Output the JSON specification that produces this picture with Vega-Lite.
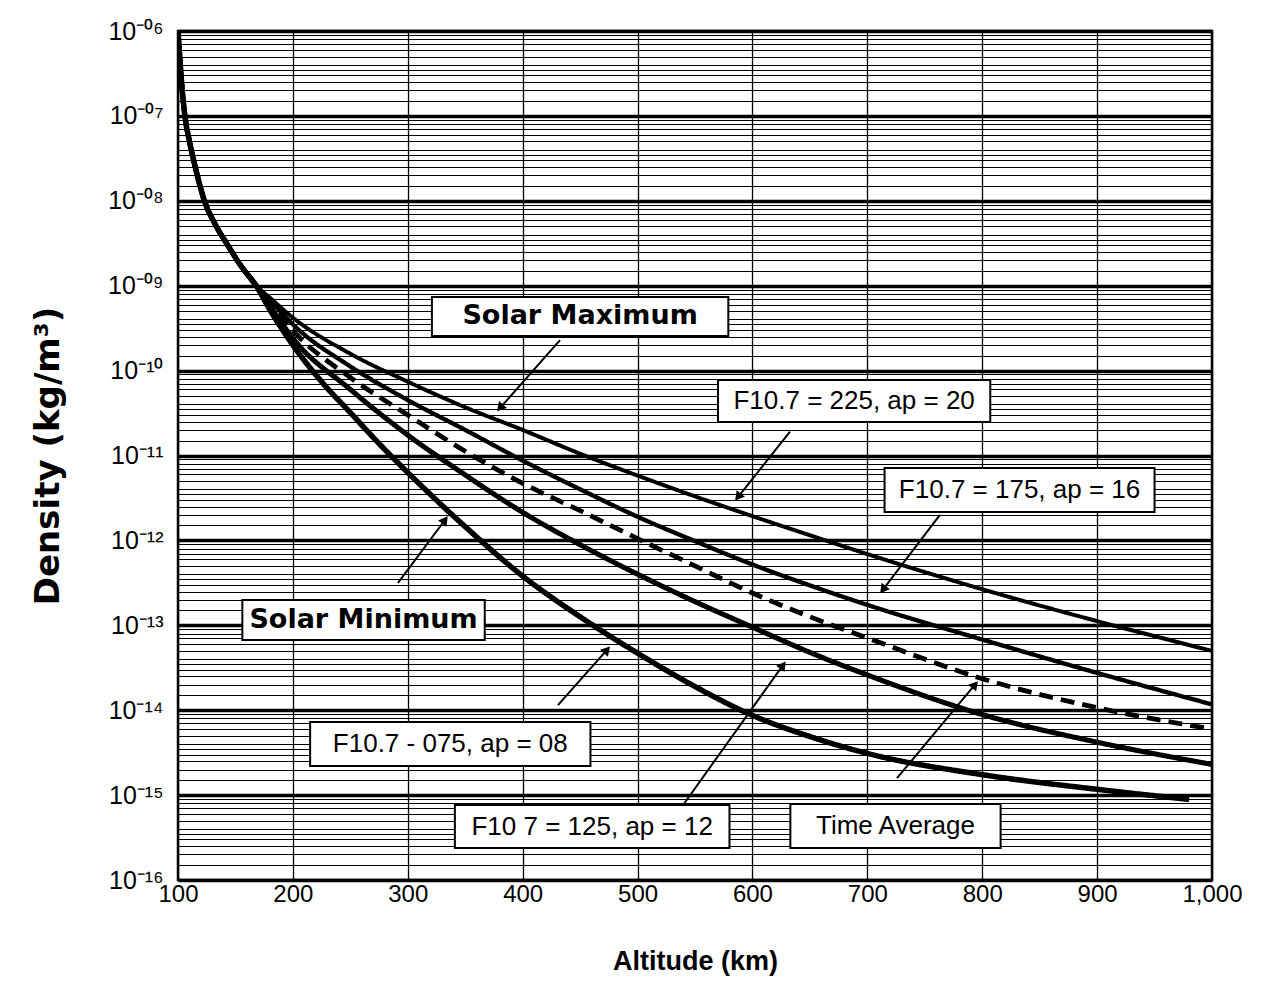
{
  "$schema": "https://vega.github.io/schema/vega-lite/v6.json",
  "width": 1034,
  "height": 849,
  "autosize": {"type": "none"},
  "padding": {"left": 178, "top": 31, "right": 49, "bottom": 120},
  "background": "white",
  "config": {"view": {"stroke": "black", "strokeWidth": 2.5}, "font": "Liberation Sans"},
  "datasets": {
    "curves": [
      {"series": "F10.7=225, ap=20", "alt": 100, "density": 1.0e-6},
      {"series": "F10.7=225, ap=20", "alt": 102, "density": 4.0e-7},
      {"series": "F10.7=225, ap=20", "alt": 104, "density": 1.8e-7},
      {"series": "F10.7=225, ap=20", "alt": 106, "density": 1.0e-7},
      {"series": "F10.7=225, ap=20", "alt": 110, "density": 5.0e-8},
      {"series": "F10.7=225, ap=20", "alt": 115, "density": 2.5e-8},
      {"series": "F10.7=225, ap=20", "alt": 123, "density": 1.0e-8},
      {"series": "F10.7=225, ap=20", "alt": 132, "density": 5.4e-9},
      {"series": "F10.7=225, ap=20", "alt": 142, "density": 3.2e-9},
      {"series": "F10.7=225, ap=20", "alt": 155, "density": 1.7e-9},
      {"series": "F10.7=225, ap=20", "alt": 168, "density": 1.0e-9},
      {"series": "F10.7=225, ap=20", "alt": 180, "density": 7.2e-10},
      {"series": "F10.7=225, ap=20", "alt": 200, "density": 4.2e-10},
      {"series": "F10.7=225, ap=20", "alt": 250, "density": 1.58e-10},
      {"series": "F10.7=225, ap=20", "alt": 300, "density": 7.4e-11},
      {"series": "F10.7=225, ap=20", "alt": 350, "density": 3.7e-11},
      {"series": "F10.7=225, ap=20", "alt": 400, "density": 2.0e-11},
      {"series": "F10.7=225, ap=20", "alt": 450, "density": 1.05e-11},
      {"series": "F10.7=225, ap=20", "alt": 500, "density": 5.8e-12},
      {"series": "F10.7=225, ap=20", "alt": 550, "density": 3.3e-12},
      {"series": "F10.7=225, ap=20", "alt": 600, "density": 1.93e-12},
      {"series": "F10.7=225, ap=20", "alt": 650, "density": 1.15e-12},
      {"series": "F10.7=225, ap=20", "alt": 700, "density": 6.9e-13},
      {"series": "F10.7=225, ap=20", "alt": 800, "density": 2.66e-13},
      {"series": "F10.7=225, ap=20", "alt": 900, "density": 1.12e-13},
      {"series": "F10.7=225, ap=20", "alt": 1000, "density": 5.0e-14},

      {"series": "F10.7=175, ap=16", "alt": 100, "density": 1.0e-6},
      {"series": "F10.7=175, ap=16", "alt": 102, "density": 4.0e-7},
      {"series": "F10.7=175, ap=16", "alt": 104, "density": 1.8e-7},
      {"series": "F10.7=175, ap=16", "alt": 106, "density": 1.0e-7},
      {"series": "F10.7=175, ap=16", "alt": 110, "density": 5.0e-8},
      {"series": "F10.7=175, ap=16", "alt": 115, "density": 2.5e-8},
      {"series": "F10.7=175, ap=16", "alt": 123, "density": 1.0e-8},
      {"series": "F10.7=175, ap=16", "alt": 132, "density": 5.4e-9},
      {"series": "F10.7=175, ap=16", "alt": 142, "density": 3.2e-9},
      {"series": "F10.7=175, ap=16", "alt": 155, "density": 1.7e-9},
      {"series": "F10.7=175, ap=16", "alt": 168, "density": 1.0e-9},
      {"series": "F10.7=175, ap=16", "alt": 180, "density": 6.8e-10},
      {"series": "F10.7=175, ap=16", "alt": 200, "density": 3.5e-10},
      {"series": "F10.7=175, ap=16", "alt": 250, "density": 1.12e-10},
      {"series": "F10.7=175, ap=16", "alt": 300, "density": 4.5e-11},
      {"series": "F10.7=175, ap=16", "alt": 350, "density": 2.0e-11},
      {"series": "F10.7=175, ap=16", "alt": 400, "density": 8.7e-12},
      {"series": "F10.7=175, ap=16", "alt": 450, "density": 4.0e-12},
      {"series": "F10.7=175, ap=16", "alt": 500, "density": 1.9e-12},
      {"series": "F10.7=175, ap=16", "alt": 550, "density": 9.8e-13},
      {"series": "F10.7=175, ap=16", "alt": 600, "density": 5.2e-13},
      {"series": "F10.7=175, ap=16", "alt": 650, "density": 2.95e-13},
      {"series": "F10.7=175, ap=16", "alt": 700, "density": 1.74e-13},
      {"series": "F10.7=175, ap=16", "alt": 800, "density": 6.8e-14},
      {"series": "F10.7=175, ap=16", "alt": 900, "density": 2.75e-14},
      {"series": "F10.7=175, ap=16", "alt": 1000, "density": 1.17e-14},

      {"series": "Time Average", "alt": 100, "density": 1.0e-6},
      {"series": "Time Average", "alt": 102, "density": 4.0e-7},
      {"series": "Time Average", "alt": 104, "density": 1.8e-7},
      {"series": "Time Average", "alt": 106, "density": 1.0e-7},
      {"series": "Time Average", "alt": 110, "density": 5.0e-8},
      {"series": "Time Average", "alt": 115, "density": 2.5e-8},
      {"series": "Time Average", "alt": 123, "density": 1.0e-8},
      {"series": "Time Average", "alt": 132, "density": 5.4e-9},
      {"series": "Time Average", "alt": 142, "density": 3.2e-9},
      {"series": "Time Average", "alt": 155, "density": 1.7e-9},
      {"series": "Time Average", "alt": 168, "density": 1.0e-9},
      {"series": "Time Average", "alt": 180, "density": 6.3e-10},
      {"series": "Time Average", "alt": 200, "density": 2.95e-10},
      {"series": "Time Average", "alt": 250, "density": 8.3e-11},
      {"series": "Time Average", "alt": 300, "density": 3.0e-11},
      {"series": "Time Average", "alt": 350, "density": 1.12e-11},
      {"series": "Time Average", "alt": 400, "density": 4.7e-12},
      {"series": "Time Average", "alt": 450, "density": 2.24e-12},
      {"series": "Time Average", "alt": 500, "density": 1.05e-12},
      {"series": "Time Average", "alt": 550, "density": 5.0e-13},
      {"series": "Time Average", "alt": 600, "density": 2.4e-13},
      {"series": "Time Average", "alt": 650, "density": 1.26e-13},
      {"series": "Time Average", "alt": 700, "density": 7.1e-14},
      {"series": "Time Average", "alt": 800, "density": 2.35e-14},
      {"series": "Time Average", "alt": 900, "density": 1.07e-14},
      {"series": "Time Average", "alt": 1000, "density": 6.0e-15},

      {"series": "F10.7=125, ap=12", "alt": 100, "density": 1.0e-6},
      {"series": "F10.7=125, ap=12", "alt": 102, "density": 4.0e-7},
      {"series": "F10.7=125, ap=12", "alt": 104, "density": 1.8e-7},
      {"series": "F10.7=125, ap=12", "alt": 106, "density": 1.0e-7},
      {"series": "F10.7=125, ap=12", "alt": 110, "density": 5.0e-8},
      {"series": "F10.7=125, ap=12", "alt": 115, "density": 2.5e-8},
      {"series": "F10.7=125, ap=12", "alt": 123, "density": 1.0e-8},
      {"series": "F10.7=125, ap=12", "alt": 132, "density": 5.4e-9},
      {"series": "F10.7=125, ap=12", "alt": 142, "density": 3.2e-9},
      {"series": "F10.7=125, ap=12", "alt": 155, "density": 1.7e-9},
      {"series": "F10.7=125, ap=12", "alt": 168, "density": 1.0e-9},
      {"series": "F10.7=125, ap=12", "alt": 180, "density": 5.8e-10},
      {"series": "F10.7=125, ap=12", "alt": 200, "density": 2.4e-10},
      {"series": "F10.7=125, ap=12", "alt": 250, "density": 6.0e-11},
      {"series": "F10.7=125, ap=12", "alt": 300, "density": 1.74e-11},
      {"series": "F10.7=125, ap=12", "alt": 350, "density": 5.9e-12},
      {"series": "F10.7=125, ap=12", "alt": 400, "density": 2.14e-12},
      {"series": "F10.7=125, ap=12", "alt": 450, "density": 8.9e-13},
      {"series": "F10.7=125, ap=12", "alt": 500, "density": 4.0e-13},
      {"series": "F10.7=125, ap=12", "alt": 550, "density": 1.9e-13},
      {"series": "F10.7=125, ap=12", "alt": 600, "density": 9.5e-14},
      {"series": "F10.7=125, ap=12", "alt": 650, "density": 4.8e-14},
      {"series": "F10.7=125, ap=12", "alt": 700, "density": 2.6e-14},
      {"series": "F10.7=125, ap=12", "alt": 800, "density": 8.9e-15},
      {"series": "F10.7=125, ap=12", "alt": 900, "density": 4.2e-15},
      {"series": "F10.7=125, ap=12", "alt": 1000, "density": 2.3e-15},

      {"series": "F10.7=75, ap=8", "alt": 100, "density": 1.0e-6},
      {"series": "F10.7=75, ap=8", "alt": 102, "density": 4.0e-7},
      {"series": "F10.7=75, ap=8", "alt": 104, "density": 1.8e-7},
      {"series": "F10.7=75, ap=8", "alt": 106, "density": 1.0e-7},
      {"series": "F10.7=75, ap=8", "alt": 110, "density": 5.0e-8},
      {"series": "F10.7=75, ap=8", "alt": 115, "density": 2.5e-8},
      {"series": "F10.7=75, ap=8", "alt": 123, "density": 1.0e-8},
      {"series": "F10.7=75, ap=8", "alt": 132, "density": 5.4e-9},
      {"series": "F10.7=75, ap=8", "alt": 142, "density": 3.2e-9},
      {"series": "F10.7=75, ap=8", "alt": 155, "density": 1.7e-9},
      {"series": "F10.7=75, ap=8", "alt": 168, "density": 1.0e-9},
      {"series": "F10.7=75, ap=8", "alt": 180, "density": 5.2e-10},
      {"series": "F10.7=75, ap=8", "alt": 200, "density": 2.0e-10},
      {"series": "F10.7=75, ap=8", "alt": 225, "density": 7.4e-11},
      {"series": "F10.7=75, ap=8", "alt": 250, "density": 3.2e-11},
      {"series": "F10.7=75, ap=8", "alt": 275, "density": 1.38e-11},
      {"series": "F10.7=75, ap=8", "alt": 300, "density": 6.3e-12},
      {"series": "F10.7=75, ap=8", "alt": 350, "density": 1.45e-12},
      {"series": "F10.7=75, ap=8", "alt": 400, "density": 3.8e-13},
      {"series": "F10.7=75, ap=8", "alt": 450, "density": 1.26e-13},
      {"series": "F10.7=75, ap=8", "alt": 500, "density": 4.7e-14},
      {"series": "F10.7=75, ap=8", "alt": 550, "density": 1.9e-14},
      {"series": "F10.7=75, ap=8", "alt": 600, "density": 8.7e-15},
      {"series": "F10.7=75, ap=8", "alt": 650, "density": 4.9e-15},
      {"series": "F10.7=75, ap=8", "alt": 700, "density": 3.1e-15},
      {"series": "F10.7=75, ap=8", "alt": 800, "density": 1.74e-15},
      {"series": "F10.7=75, ap=8", "alt": 900, "density": 1.17e-15},
      {"series": "F10.7=75, ap=8", "alt": 980, "density": 8.9e-16}
    ],
    "labels": [
      {"text": "Solar Maximum", "kind": "regime", "x1": 321, "x2": 579, "y1": 7.36e-10, "y2": 2.56e-10},
      {"text": "F10.7 = 225, ap = 20", "kind": "param", "x1": 570, "x2": 807, "y1": 7.74e-11, "y2": 2.48e-11},
      {"text": "F10.7 = 175, ap = 16", "kind": "param", "x1": 715, "x2": 950, "y1": 7.13e-12, "y2": 2.16e-12},
      {"text": "Solar Minimum", "kind": "regime", "x1": 156, "x2": 367, "y1": 1.99e-13, "y2": 6.71e-14},
      {"text": "F10.7 - 075, ap = 08", "kind": "param", "x1": 215, "x2": 459, "y1": 7.26e-15, "y2": 2.20e-15},
      {"text": "F10 7 = 125, ap = 12", "kind": "param", "x1": 341, "x2": 580, "y1": 7.64e-16, "y2": 2.38e-16},
      {"text": "Time Average", "kind": "param", "x1": 633, "x2": 816, "y1": 7.85e-16, "y2": 2.38e-16}
    ],
    "arrows": [
      {"label": "Solar Maximum", "tx": 432.5, "ty": 2.29e-10, "hx": 380.3, "hy": 3.63e-11},
      {"label": "F10.7 = 225", "tx": 632.7, "ty": 1.91e-11, "hx": 587.4, "hy": 3.24e-12},
      {"label": "F10.7 = 175", "tx": 763.2, "ty": 2.0e-12, "hx": 713.6, "hy": 2.63e-13},
      {"label": "Solar Minimum", "tx": 291.5, "ty": 3.16e-13, "hx": 332.4, "hy": 1.74e-12},
      {"label": "F10.7 = 075", "tx": 430.7, "ty": 1.15e-14, "hx": 473.4, "hy": 5.13e-14},
      {"label": "F10.7 = 125", "tx": 539.5, "ty": 7.6e-16, "hx": 626.6, "hy": 3.39e-14},
      {"label": "Time Average", "tx": 725.8, "ty": 1.58e-15, "hx": 793.7, "hy": 2.0e-14}
    ]
  },
  "layer": [
    {
      "data": {"name": "curves"},
      "mark": {"type": "line", "interpolate": "monotone", "color": "black", "clip": true},
      "encoding": {
        "x": {
          "field": "alt", "type": "quantitative",
          "scale": {"type": "linear", "domain": [100, 1000], "nice": false, "zero": false},
          "axis": {
            "values": [100, 200, 300, 400, 500, 600, 700, 800, 900, 1000],
            "labelExpr": "format(datum.value, ',')",
            "ticks": false, "domain": false,
            "grid": true, "gridColor": "black", "gridWidth": 1.3,
            "labelFont": "Liberation Sans", "labelFontSize": 24, "labelColor": "black", "labelPadding": 2, "labelFlush": false,
            "title": "Altitude (km)", "titleFont": "Liberation Sans", "titleFontSize": 27, "titleFontWeight": "bold", "titleColor": "black", "titlePadding": 42
          }
        },
        "y": {
          "field": "density", "type": "quantitative",
          "scale": {"type": "log", "domain": [1e-16, 1e-6], "nice": false},
          "axis": {
            "values": [1e-16, 1.5e-16, 2e-16, 2.5e-16, 3e-16, 3.5e-16, 4e-16, 5e-16, 6e-16, 7e-16, 8e-16, 9e-16,
                       1e-15, 1.5e-15, 2e-15, 2.5e-15, 3e-15, 3.5e-15, 4e-15, 5e-15, 6e-15, 7e-15, 8e-15, 9e-15,
                       1e-14, 1.5e-14, 2e-14, 2.5e-14, 3e-14, 3.5e-14, 4e-14, 5e-14, 6e-14, 7e-14, 8e-14, 9e-14,
                       1e-13, 1.5e-13, 2e-13, 2.5e-13, 3e-13, 3.5e-13, 4e-13, 5e-13, 6e-13, 7e-13, 8e-13, 9e-13,
                       1e-12, 1.5e-12, 2e-12, 2.5e-12, 3e-12, 3.5e-12, 4e-12, 5e-12, 6e-12, 7e-12, 8e-12, 9e-12,
                       1e-11, 1.5e-11, 2e-11, 2.5e-11, 3e-11, 3.5e-11, 4e-11, 5e-11, 6e-11, 7e-11, 8e-11, 9e-11,
                       1e-10, 1.5e-10, 2e-10, 2.5e-10, 3e-10, 3.5e-10, 4e-10, 5e-10, 6e-10, 7e-10, 8e-10, 9e-10,
                       1e-9, 1.5e-9, 2e-9, 2.5e-9, 3e-9, 3.5e-9, 4e-9, 5e-9, 6e-9, 7e-9, 8e-9, 9e-9,
                       1e-8, 1.5e-8, 2e-8, 2.5e-8, 3e-8, 3.5e-8, 4e-8, 5e-8, 6e-8, 7e-8, 8e-8, 9e-8,
                       1e-7, 1.5e-7, 2e-7, 2.5e-7, 3e-7, 3.5e-7, 4e-7, 5e-7, 6e-7, 7e-7, 8e-7, 9e-7, 1e-6],
            "labelExpr": "abs(log(datum.value)/LN10 - round(log(datum.value)/LN10)) < 0.001 ? '10\u207b' + ['\u2070','\u00b9','\u00b2','\u00b3','\u2074','\u2075','\u2076','\u2077','\u2078','\u2079'][floor(-round(log(datum.value)/LN10)/10)] + ['\u2070','\u00b9','\u00b2','\u00b3','\u2074','\u2075','\u2076','\u2077','\u2078','\u2079'][(-round(log(datum.value)/LN10)) % 10] : ''",
            "labelOverlap": false,
            "ticks": false, "domain": false,
            "grid": true, "gridColor": "black",
            "gridWidth": {"condition": {"test": "abs(log(datum.value)/LN10 - round(log(datum.value)/LN10)) < 0.001", "value": 3.5}, "value": 1.1},
            "labelFont": "Liberation Sans", "labelFontSize": 25, "labelColor": "black", "labelPadding": 15,
            "title": "Density (kg/m\u00b3)", "titleFont": "DejaVu Sans", "titleFontSize": 34, "titleFontWeight": "bold", "titleColor": "black", "titlePadding": 42
          }
        },
        "detail": {"field": "series", "type": "nominal"},
        "strokeWidth": {
          "field": "series", "type": "nominal",
          "scale": {"domain": ["F10.7=75, ap=8", "F10.7=125, ap=12", "Time Average", "F10.7=175, ap=16", "F10.7=225, ap=20"], "range": [5.5, 4, 2.6, 2.6, 2]},
          "legend": null
        },
        "strokeDash": {
          "field": "series", "type": "nominal",
          "scale": {"domain": ["F10.7=75, ap=8", "F10.7=125, ap=12", "Time Average", "F10.7=175, ap=16", "F10.7=225, ap=20"], "range": [[1, 0], [1, 0], [14, 8], [1, 0], [1, 0]]},
          "legend": null
        }
      }
    },
    {
      "data": {"name": "labels"},
      "mark": {"type": "rect", "fill": "white", "stroke": "black", "strokeWidth": 2},
      "encoding": {
        "x": {"field": "x1", "type": "quantitative"},
        "x2": {"field": "x2"},
        "y": {"field": "y1", "type": "quantitative"},
        "y2": {"field": "y2"}
      }
    },
    {
      "data": {"name": "labels"},
      "transform": [
        {"filter": "datum.kind === 'regime'"},
        {"calculate": "(datum.x1 + datum.x2) / 2", "as": "cx"},
        {"calculate": "sqrt(datum.y1 * datum.y2)", "as": "cy"}
      ],
      "mark": {"type": "text", "align": "center", "baseline": "middle", "color": "black", "font": "DejaVu Sans", "fontWeight": "bold", "fontSize": 27},
      "encoding": {
        "x": {"field": "cx", "type": "quantitative"},
        "y": {"field": "cy", "type": "quantitative"},
        "text": {"field": "text", "type": "nominal"}
      }
    },
    {
      "data": {"name": "labels"},
      "transform": [
        {"filter": "datum.kind === 'param'"},
        {"calculate": "(datum.x1 + datum.x2) / 2", "as": "cx"},
        {"calculate": "sqrt(datum.y1 * datum.y2)", "as": "cy"}
      ],
      "mark": {"type": "text", "align": "center", "baseline": "middle", "color": "black", "font": "Liberation Sans", "fontWeight": "normal", "fontSize": 26},
      "encoding": {
        "x": {"field": "cx", "type": "quantitative"},
        "y": {"field": "cy", "type": "quantitative"},
        "text": {"field": "text", "type": "nominal"}
      }
    },
    {
      "data": {"name": "arrows"},
      "mark": {"type": "rule", "color": "black", "strokeWidth": 2},
      "encoding": {
        "x": {"field": "tx", "type": "quantitative"},
        "y": {"field": "ty", "type": "quantitative"},
        "x2": {"field": "hx"},
        "y2": {"field": "hy"}
      }
    },
    {
      "data": {"name": "arrows"},
      "transform": [
        {"calculate": "atan2((datum.hx - datum.tx) * 1.149, (log(datum.hy) - log(datum.ty)) / LN10 * 84.9) * 180 / PI", "as": "ang"}
      ],
      "mark": {"type": "point", "shape": "triangle-up", "filled": true, "color": "black", "opacity": 1, "size": 110},
      "encoding": {
        "x": {"field": "hx", "type": "quantitative"},
        "y": {"field": "hy", "type": "quantitative"},
        "angle": {"field": "ang", "type": "quantitative", "scale": null}
      }
    }
  ]
}
